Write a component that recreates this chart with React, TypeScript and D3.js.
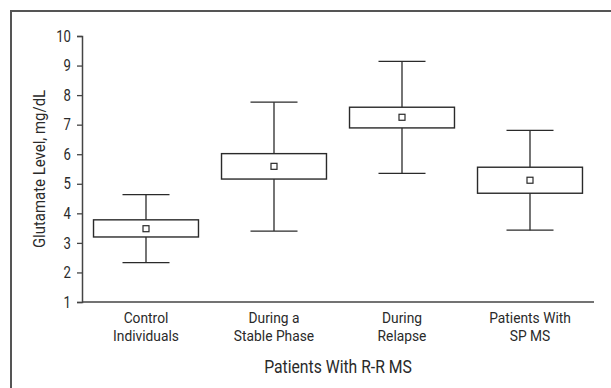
import React, { useEffect, useRef } from "react";
import * as d3 from "d3";

const categories = [
  ["Control", "Individuals"],
  ["During a", "Stable Phase"],
  ["During", "Relapse"],
  ["Patients With", "SP MS"],
];
const whiskerLow = [2.33, 3.4, 5.35, 3.43];
const boxLow = [3.2, 5.16, 6.89, 4.68];
const means = [3.48, 5.59, 7.25, 5.12];
const boxHigh = [3.78, 6.02, 7.59, 5.56];
const whiskerHigh = [4.63, 7.76, 9.14, 6.81];
const yTicks = [1, 2, 3, 4, 5, 6, 7, 8, 9, 10];

const WIDTH = 611;
const HEIGHT = 388;
const MARGIN = { LEFT: 82, RIGHT: 17, TOP: 36, BOTTOM: 86 };
const FONT = "Roboto, sans-serif";
const INK = "#2a2a2a";

// the original uses a condensed face, so squeeze Roboto horizontally
const squeezed = (parent, x, y, size, sx, rotate = 0) =>
  parent
    .append("text")
    .attr(
      "transform",
      `translate(${x},${y})${rotate ? ` rotate(${rotate})` : ""} scale(${sx},1)`
    )
    .attr("text-anchor", "middle")
    .attr("fill", INK)
    .style("font-family", FONT)
    .style("font-size", size + "px");

const App = () => {
  const ref = useRef(null);

  useEffect(() => {
    const svg = d3.select(ref.current);
    svg.selectAll("*").remove();

    const x = d3
      .scaleBand()
      .domain(categories.map((d, i) => String(i)))
      .range([MARGIN.LEFT, WIDTH - MARGIN.RIGHT])
      .paddingInner(0.18)
      .paddingOuter(0.09);
    const y = d3
      .scaleLinear()
      .domain([1, 10])
      .range([HEIGHT - MARGIN.BOTTOM, MARGIN.TOP]);

    // outer frame (runs off the right and bottom edges)
    svg
      .append("path")
      .attr("d", `M11,${HEIGHT + 10}V11H${WIDTH + 10}`)
      .attr("fill", "none")
      .attr("stroke", "#555")
      .attr("stroke-width", 2);

    // y axis
    const tickSx = 0.82;
    const yAxis = svg
      .append("g")
      .attr("transform", `translate(${MARGIN.LEFT},0)`)
      .call(d3.axisLeft(y).tickValues(yTicks).tickSize(5).tickPadding(6));
    yAxis.attr("font-family", FONT).attr("font-size", 16);
    yAxis.select(".domain").attr("stroke", "#444").attr("stroke-width", 1.5);
    yAxis.selectAll(".tick line").attr("stroke", "#444").attr("stroke-width", 1.3);
    yAxis
      .selectAll(".tick text")
      .attr("fill", INK)
      .attr("x", -11 / tickSx)
      .attr("transform", `scale(${tickSx},1)`);

    // x axis line only
    svg
      .append("line")
      .attr("x1", MARGIN.LEFT)
      .attr("x2", WIDTH - MARGIN.RIGHT)
      .attr("y1", y(1))
      .attr("y2", y(1))
      .attr("stroke", "#444")
      .attr("stroke-width", 1.5);

    const capW = 47;
    const groups = svg
      .selectAll("g.box")
      .data(categories)
      .enter()
      .append("g")
      .attr("class", "box");

    groups.each(function (d, i) {
      const g = d3.select(this);
      const cx = x(String(i)) + x.bandwidth() / 2;

      g.append("line")
        .attr("x1", cx)
        .attr("x2", cx)
        .attr("y1", y(whiskerHigh[i]))
        .attr("y2", y(whiskerLow[i]))
        .attr("stroke", INK)
        .attr("stroke-width", 1.3);
      [whiskerHigh[i], whiskerLow[i]].forEach((v) => {
        g.append("line")
          .attr("x1", cx - capW / 2)
          .attr("x2", cx + capW / 2)
          .attr("y1", y(v))
          .attr("y2", y(v))
          .attr("stroke", INK)
          .attr("stroke-width", 1.3);
      });
      g.append("rect")
        .attr("x", x(String(i)))
        .attr("width", x.bandwidth())
        .attr("y", y(boxHigh[i]))
        .attr("height", y(boxLow[i]) - y(boxHigh[i]))
        .attr("fill", "white")
        .attr("stroke", INK)
        .attr("stroke-width", 1.4);
      g.append("rect")
        .attr("x", cx - 3)
        .attr("y", y(means[i]) - 3)
        .attr("width", 6)
        .attr("height", 6)
        .attr("fill", "white")
        .attr("stroke", INK)
        .attr("stroke-width", 1.2);

      const label = squeezed(g, cx, y(1) + 21, 15, 0.92);
      d.forEach((line, k) => {
        label
          .append("tspan")
          .attr("x", 0)
          .attr("dy", k === 0 ? 0 : 18.4)
          .text(line);
      });
    });

    squeezed(svg, (MARGIN.LEFT + WIDTH - MARGIN.RIGHT) / 2, 373, 17.5, 0.9).text(
      "Patients With R-R MS"
    );

    squeezed(svg, 45, (y(1) + y(10)) / 2, 17, 0.88, -90).text(
      "Glutamate Level, mg/dL"
    );
  }, []);

  return (
    <svg
      ref={ref}
      width={WIDTH}
      height={HEIGHT}
      style={{ position: "absolute", left: 0, top: 0, background: "white" }}
    />
  );
};

export default App;
